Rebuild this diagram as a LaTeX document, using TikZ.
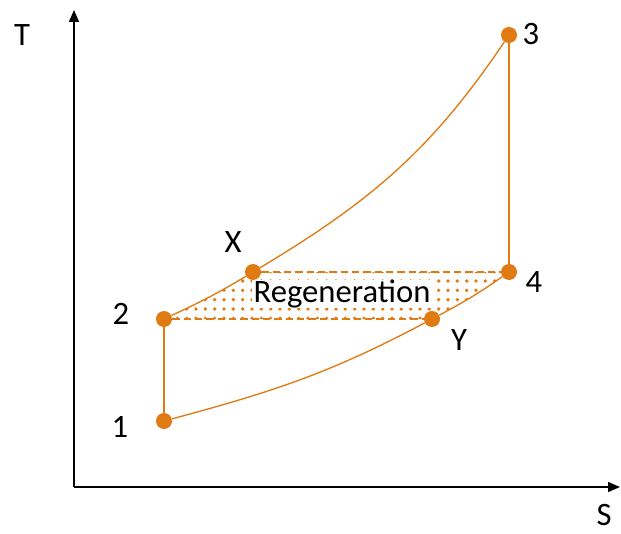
\documentclass[tikz,border=0pt]{standalone}
\usepackage{fontspec}
\setmainfont{Carlito}
\usetikzlibrary{arrows.meta,patterns.meta,backgrounds}
\definecolor{cycorange}{HTML}{E07A12}
\tikzset{
  statept/.style={circle, fill=cycorange, draw=none, minimum size=12pt, inner sep=0pt},
  cyc/.style={draw=cycorange, line width=1pt},
  regen/.style={draw=cycorange, line width=0.9pt, dash pattern=on 5.5pt off 3pt},
  axisar/.style={-{Triangle[length=9pt,width=7.5pt]}, line width=1.1pt, draw=black},
  lbl/.style={font=\fontsize{24.5}{27}\selectfont, inner sep=0pt},
}

\begin{document}
\begin{tikzpicture}[x=0.75pt, y=0.75pt]
  \useasboundingbox (0,0) rectangle (621,533);

  % axes
  \coordinate (origin) at (74,46);
  \coordinate (ytip) at (74,523);
  \coordinate (xtip) at (620,46);
  \draw[axisar] (origin) -- (ytip);
  \draw[axisar] (origin) -- (xtip);
  \node[lbl] (tlbl) at (22,498) {T};
  \node[lbl] (slbl) at (604,18) {S};

  % states
  \node[statept] (p1) at (164,112) {};
  \node[statept] (p2) at (164,214) {};
  \node[statept] (pX) at (253,261) {};
  \node[statept] (p3) at (509,498) {};
  \node[statept] (p4) at (509,261) {};
  \node[statept] (pY) at (432,214) {};

  \node[lbl] (l1) at (120,106) {1};
  \node[lbl] (l2) at (121,219) {2};
  \node[lbl] (lX) at (233,291) {X};
  \node[lbl] (l3) at (531,499) {3};
  \node[lbl] (l4) at (534,251) {4};
  \node[lbl] (lY) at (459,193) {Y};

  \begin{scope}[on background layer]
    \fill[pattern={Dots[radius=1.4pt, distance=7pt]}, pattern color=cycorange]
      (p2.center) to[out=25,in=211] (pX.center) -- (p4.center)
      to[out=215,in=28] (pY.center) -- cycle;
  \end{scope}
  \node[lbl, fill=white, inner xsep=1pt, inner ysep=0pt] (regtxt) at (342,239) {Regeneration};

  % cycle
  \draw[cyc] (p1) -- (p2);
  \draw[cyc] (p2) to[out=25,in=211] (pX);
  \draw[cyc] (pX) to[out=31,in=236] (p3);
  \draw[cyc] (p3) -- (p4);
  \draw[cyc] (p1) to[out=15,in=208] (pY);
  \draw[cyc] (pY) to[out=28,in=215] (p4);
  \draw[regen] (pX) -- (p4);
  \draw[regen] (p2) -- (pY);
\end{tikzpicture}
\end{document}
